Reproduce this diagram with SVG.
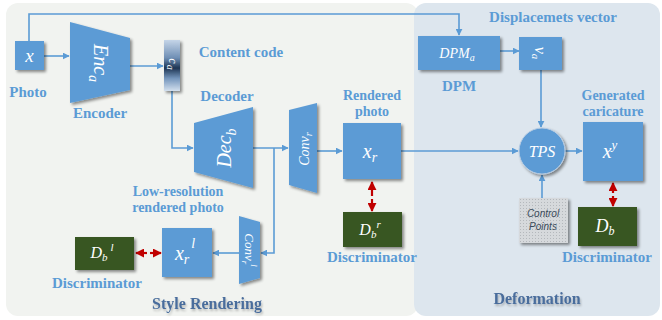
<svg xmlns="http://www.w3.org/2000/svg" width="662" height="320" viewBox="0 0 662 320">
<defs>
  <filter id="sh" x="-20%" y="-20%" width="150%" height="150%">
    <feGaussianBlur in="SourceAlpha" stdDeviation="1.5"/>
    <feOffset dx="2" dy="2" result="o"/>
    <feComponentTransfer><feFuncA type="linear" slope="0.45"/></feComponentTransfer>
    <feMerge><feMergeNode/><feMergeNode in="SourceGraphic"/></feMerge>
  </filter>
  <filter id="glow" x="-10%" y="-30%" width="120%" height="160%">
    <feGaussianBlur in="SourceAlpha" stdDeviation="1.2"/>
    <feOffset dx="1" dy="2"/>
    <feComponentTransfer><feFuncA type="linear" slope="0.25"/></feComponentTransfer>
    <feMerge><feMergeNode/><feMergeNode in="SourceGraphic"/></feMerge>
  </filter>
  <linearGradient id="cg" x1="0" y1="0" x2="0" y2="1">
    <stop offset="0" stop-color="#c5d5e8"/>
    <stop offset="0.35" stop-color="#6f8fb5"/>
    <stop offset="0.55" stop-color="#1d3553"/>
    <stop offset="0.75" stop-color="#7394bb"/>
    <stop offset="1" stop-color="#d3e0ee"/>
  </linearGradient>
  <pattern id="dots" width="3" height="3" patternUnits="userSpaceOnUse">
    <rect width="3" height="3" fill="#d6d9dc"/>
    <rect x="1" y="1" width="1" height="1" fill="#b4b8bc"/>
  </pattern>
  <marker id="ar" viewBox="0 0 10 10" refX="9" refY="5" markerWidth="7" markerHeight="7" orient="auto" markerUnits="userSpaceOnUse">
    <path d="M0,0 L10,5 L0,10 z" fill="#5b9bd5"/>
  </marker>
  <marker id="rar" viewBox="0 0 10 10" refX="9" refY="5" markerWidth="9" markerHeight="9" orient="auto" markerUnits="userSpaceOnUse">
    <path d="M0,0 L10,5 L0,10 z" fill="#c00000"/>
  </marker>
</defs>
<style>
  .box { fill: #5b9bd5; filter: url(#sh); }
  .dis { fill: #375623; filter: url(#sh); }
  .in { font-family: "Liberation Serif", "DejaVu Serif", serif; font-style: italic; fill: #ffffff; text-anchor: middle; }
  .lbl { font-family: "Liberation Serif", "DejaVu Serif", serif; font-weight: bold; font-size: 15px; fill: #5b9bd5; text-anchor: middle; }
  .lbl2 { font-family: "Liberation Serif", "DejaVu Serif", serif; font-weight: bold; font-size: 14px; fill: #5b9bd5; text-anchor: middle; }
  .sec { font-family: "Liberation Serif", "DejaVu Serif", serif; font-weight: bold; font-size: 16px; fill: #4a6d9c; text-anchor: middle; filter: url(#glow); }
  .ln { fill: none; stroke: #5b9bd5; stroke-width: 1.6; }
  .red { fill: none; stroke: #c00000; stroke-width: 2.2; }
</style>

<!-- panels -->
<rect x="6" y="3" width="412" height="313" rx="12" fill="#f1f3f0"/>
<rect x="414" y="3" width="246" height="313" rx="12" fill="#dde6ee"/>

<!-- connectors -->
<g id="connectors">
  <path class="ln" d="M29,41 V14 H459 V35" marker-end="url(#ar)"/>
  <path class="ln" d="M44,56 H69" marker-end="url(#ar)"/>
  <path class="ln" d="M130,66 H163" marker-end="url(#ar)"/>
  <path class="ln" d="M172,91 V148 H193" marker-end="url(#ar)"/>
  <path class="ln" d="M253,148 H288" marker-end="url(#ar)"/>
  <path class="ln" d="M274,148 V253 H261" marker-end="url(#ar)"/>
  <path class="ln" d="M317,151 H342" marker-end="url(#ar)"/>
  <path class="ln" d="M239,253 H213" marker-end="url(#ar)"/>
  <path class="ln" d="M401,151 H518" marker-end="url(#ar)"/>
  <path class="ln" d="M500,51 H519" marker-end="url(#ar)"/>
  <path class="ln" d="M541,70 V127" marker-end="url(#ar)"/>
  <path class="ln" d="M565,151 H582" marker-end="url(#ar)"/>
  <path class="ln" d="M542,198 V175" marker-end="url(#ar)"/>
  <path class="red" d="M372,196 V182" marker-end="url(#rar)"/>
  <path class="red" d="M372,199 V211" marker-end="url(#rar)"/>
  <path class="red" d="M147,253 H136" marker-end="url(#rar)"/>
  <path class="red" d="M150,253 H161" marker-end="url(#rar)"/>
  <path class="red" d="M613,193 V183" marker-end="url(#rar)"/>
  <path class="red" d="M613,196 V206" marker-end="url(#rar)"/>
</g>

<!-- nodes -->
<g id="photo">
  <rect class="box" x="15" y="41" width="29" height="29"/>
  <text class="in" x="29.5" y="62" font-size="19">x</text>
  <text class="lbl" x="28" y="97">Photo</text>
</g>
<g id="encoder">
  <polygon class="box" points="70,22 130,38 130,90 70,103"/>
  <text class="in" transform="translate(100,63) rotate(90)" font-size="20" y="6">Enc<tspan font-size="14" dy="5">a</tspan></text>
  <text class="lbl" x="100" y="118">Encoder</text>
</g>
<g id="content-code">
  <rect x="164" y="40" width="16" height="51" fill="url(#cg)" filter="url(#sh)"/>
  <text transform="translate(172,64) rotate(90)" font-family="Liberation Serif, serif" font-style="italic" font-size="12" fill="#ffffff" text-anchor="middle" y="3">c<tspan font-size="10" dx="1" dy="2">a</tspan></text>
  <text class="lbl" x="241" y="57">Content code</text>
</g>
<g id="decoder">
  <polygon class="box" points="194,123 253,107 253,188 194,172"/>
  <text class="in" transform="translate(225,148) rotate(-90)" font-size="20" y="6">Dec<tspan font-size="14" dy="5">b</tspan></text>
  <text class="lbl" x="227" y="101">Decoder</text>
</g>
<g id="conv-r">
  <polygon class="box" points="289,110 317,103 317,193 289,185"/>
  <text class="in" transform="translate(304,149) rotate(-90)" font-size="14" y="5">Conv<tspan font-size="10" dy="3">r</tspan></text>
</g>
<g id="rendered-photo">
  <rect class="box" x="343" y="123" width="58" height="56"/>
  <text class="in" x="370" y="158" font-size="20">x<tspan font-size="14" dy="4">r</tspan></text>
  <text class="lbl2" x="372" y="100">Rendered</text>
  <text class="lbl2" x="372" y="116">photo</text>
</g>
<g id="disc-r">
  <rect class="dis" x="343" y="212" width="59" height="35"/>
  <text class="in" x="370" y="235" font-size="16">D<tspan font-size="11" dy="3">b</tspan><tspan font-size="11" dy="-10">r</tspan></text>
  <text class="lbl" x="372" y="262">Discriminator</text>
</g>
<g id="conv-rl">
  <polygon class="box" points="239,216 260,222 260,278 239,284"/>
  <text class="in" transform="translate(249,250) rotate(90)" font-size="13" y="4">Conv<tspan font-size="9" dy="3">r</tspan><tspan font-size="9" dy="-9">l</tspan></text>
</g>
<g id="lowres-photo">
  <rect class="box" x="162" y="228" width="50" height="49"/>
  <text class="in" x="185" y="260" font-size="20">x<tspan font-size="14" dy="4">r</tspan><tspan font-size="14" dx="2" dy="-16">l</tspan></text>
  <text class="lbl2" x="178" y="196">Low-resolution</text>
  <text class="lbl2" x="178" y="212">rendered photo</text>
</g>
<g id="disc-l">
  <rect class="dis" x="75" y="237" width="59" height="33"/>
  <text class="in" x="102" y="258" font-size="16">D<tspan font-size="11" dy="3">b</tspan><tspan font-size="11" dx="3" dy="-10">l</tspan></text>
  <text class="lbl" x="97" y="288">Discriminator</text>
</g>
<g id="dpm">
  <rect class="box" x="418" y="36" width="82" height="34"/>
  <text class="in" x="457" y="58" font-size="14">DPM<tspan font-size="10" dy="3">a</tspan></text>
  <text class="lbl" x="459" y="91">DPM</text>
</g>
<g id="displacement">
  <rect class="box" x="519" y="37" width="43" height="33"/>
  <text class="in" transform="translate(540,53) rotate(90)" font-size="16" y="5">v<tspan font-size="11" dy="3">a</tspan></text>
  <text class="lbl" x="553" y="22">Displacemets vector</text>
</g>
<g id="tps">
  <circle class="box" cx="542" cy="151" r="23" stroke="#b9cde3" stroke-width="1"/>
  <text class="in" x="542" y="157" font-size="16">TPS</text>
</g>
<g id="control-points">
  <rect x="519" y="198" width="49" height="45" fill="url(#dots)" filter="url(#sh)"/>
  <text x="543" y="217" font-family="Liberation Sans, Arial, sans-serif" font-style="italic" font-size="10" fill="#3a4a5a" text-anchor="middle">Control<tspan x="543" dy="13">Points</tspan></text>
</g>
<g id="caricature">
  <rect class="box" x="583" y="122" width="60" height="59"/>
  <text class="in" x="610" y="158" font-size="20">x<tspan font-size="13" dy="-9">y</tspan></text>
  <text class="lbl2" x="613" y="100">Generated</text>
  <text class="lbl2" x="613" y="116">caricature</text>
</g>
<g id="disc-b">
  <rect class="dis" x="578" y="207" width="59" height="39"/>
  <text class="in" x="605" y="232" font-size="18">D<tspan font-size="12" dy="3">b</tspan></text>
  <text class="lbl" x="607" y="262">Discriminator</text>
</g>
<g id="sections">
  <text class="sec" x="207" y="309">Style Rendering</text>
  <text class="sec" x="537" y="304">Deformation</text>
</g>
</svg>
